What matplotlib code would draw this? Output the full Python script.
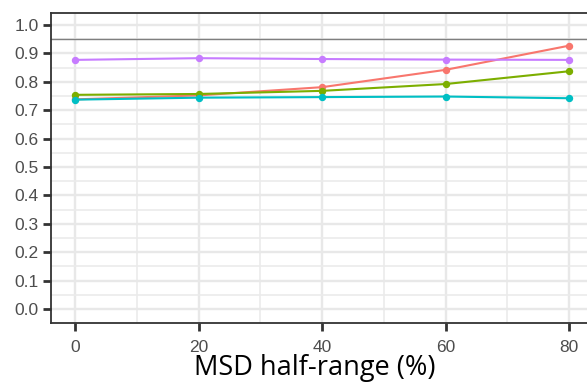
import matplotlib
matplotlib.use("Agg")
import matplotlib.pyplot as plt
from matplotlib.ticker import MultipleLocator

# data
msd = [0, 20, 40, 60, 80]
red_vals = [0.738, 0.752, 0.781, 0.842, 0.927]
green_vals = [0.754, 0.757, 0.768, 0.792, 0.837]
teal_vals = [0.737, 0.744, 0.746, 0.748, 0.742]
purple_vals = [0.877, 0.883, 0.880, 0.878, 0.877]
series = [
    (red_vals, "#F8766D"),
    (green_vals, "#7CAE00"),
    (teal_vals, "#00BFC4"),
    (purple_vals, "#C77CFF"),
]
ref_line = 0.95
y_ticks = [round(0.1 * i, 1) for i in range(11)]
x_ticks = [0, 20, 40, 60, 80]


def draw():
    plt.rcParams['font.family'] = ['Liberation Sans', 'DejaVu Sans']
    fig = plt.figure(figsize=(5.87, 3.85), dpi=100)
    ax = fig.add_axes([51 / 587, 1 - 323 / 385, 1 - 51 / 587, 310 / 385])

    ax.set_xlim(-3.9, 82.9)
    ax.set_ylim(-0.049, 1.042)
    ax.set_xticks(x_ticks)
    ax.set_yticks(y_ticks)
    ax.set_yticklabels([f"{v:.1f}" for v in y_ticks])
    ax.xaxis.set_minor_locator(MultipleLocator(10))
    ax.yaxis.set_minor_locator(MultipleLocator(0.05))

    # ggplot-like grid
    ax.grid(which="major", color="#E8E8E8", linewidth=1.7)
    ax.grid(which="minor", color="#EBEBEB", linewidth=1.2)
    ax.set_axisbelow(True)

    ax.axhline(ref_line, color="#7F7F7F", linewidth=1.0, zorder=2)

    for vals, col in series:
        ax.plot(msd, vals, color=col, linewidth=1.5, marker="o",
                markersize=4.3, zorder=3)

    for side in ["left", "bottom", "top"]:
        ax.spines[side].set_color("#333333")
        ax.spines[side].set_linewidth(1.3)
    ax.spines["right"].set_visible(False)

    ax.tick_params(which="major", length=6, width=2, color="#333333",
                   labelsize=12.5, labelcolor="#4D4D4D", pad=3)
    ax.tick_params(axis="x", pad=6)
    ax.tick_params(which="minor", length=0)

    fig.text(315 / 587, 1 - 375 / 385, "MSD half-range (%)", fontsize=19.5,
             family="Open Sans", ha="center", va="baseline", color="black")

    plt.savefig("out.png", dpi=100)


if __name__ == '__main__':
    draw()
